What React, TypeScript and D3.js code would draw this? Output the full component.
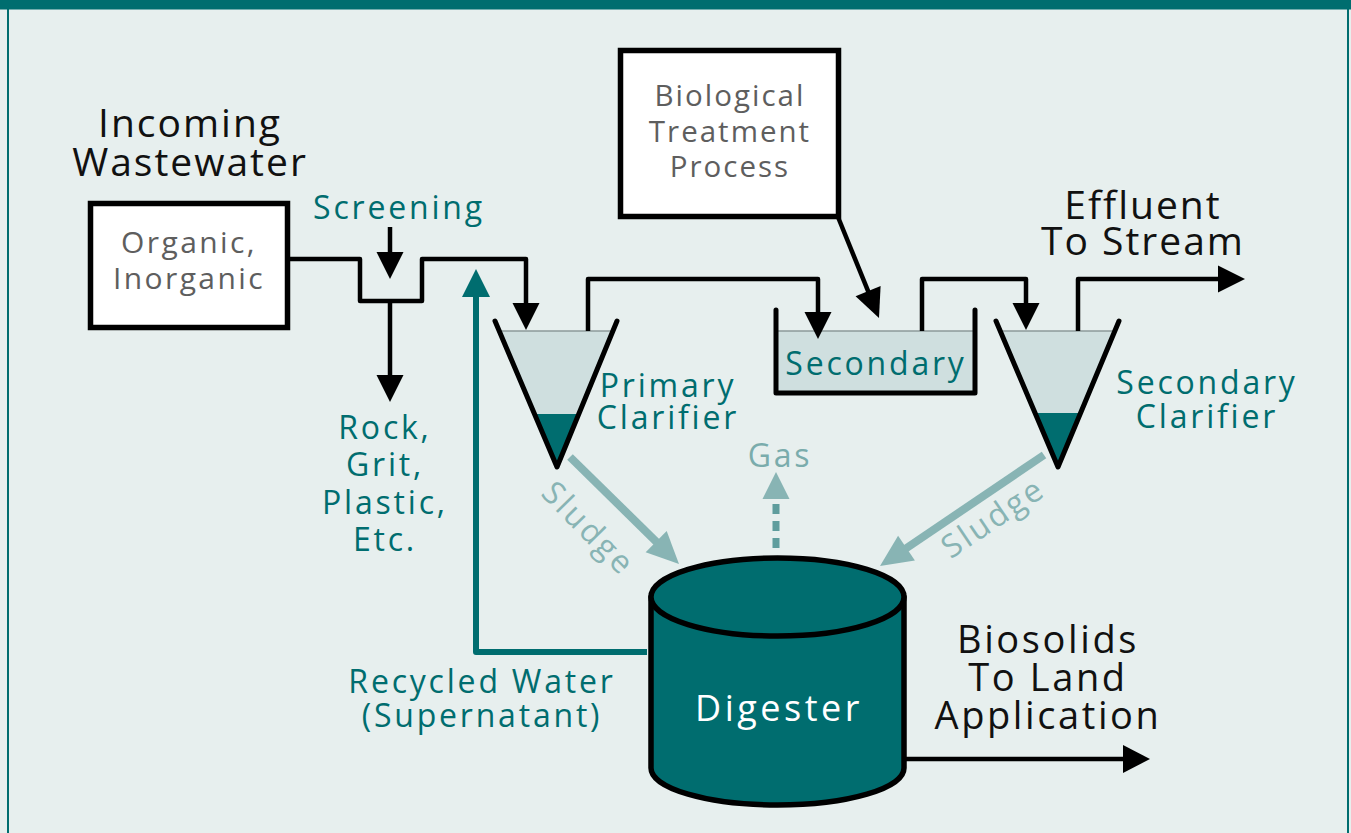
import React, { useEffect, useRef } from "react";
import * as d3 from "d3";

// labels, top to bottom / left to right
const incomingLabel = ["Incoming", "Wastewater"];
const sourceLabel = ["Organic,", "Inorganic"];
const screeningLabel = ["Screening"];
const removedLabel = ["Rock,", "Grit,", "Plastic,", "Etc."];
const bioLabel = ["Biological", "Treatment", "Process"];
const primaryLabel = ["Primary", "Clarifier"];
const tankLabel = ["Secondary"];
const secondaryLabel = ["Secondary", "Clarifier"];
const effluentLabel = ["Effluent", "To Stream"];
const gasLabel = ["Gas"];
const sludgeLabel = ["Sludge"];
const digesterLabel = ["Digester"];
const biosolidsLabel = ["Biosolids", "To Land", "Application"];
const recycledLabel = ["Recycled Water", "(Supernatant)"];

const W = 1351, H = 833;
const TEAL = "#006d6f";
const BG = "#e7efee";
const LIQUID = "#cfdfdf";
const PALE = "#88b4b4";
const GRAY = "#5e5e5e";
const FONT = "'Open Sans', 'DejaVu Sans', sans-serif";

type Pt = [number, number];

const App = () => {
  const svgRef = useRef<SVGSVGElement>(null);

  useEffect(() => {
    const svg = d3.select(svgRef.current);
    svg.selectAll("*").remove();
    const line = d3.line();

    // frame
    svg.append("rect").attr("width", W).attr("height", H).attr("fill", BG);
    svg.append("rect").attr("width", W).attr("height", 9.5).attr("fill", TEAL);
    svg.append("rect").attr("x", 7).attr("width", 2).attr("height", H).attr("fill", TEAL);
    svg.append("rect").attr("x", 1347).attr("width", 2).attr("height", H).attr("fill", TEAL);

    const g = svg.append("g");

    const text = (lines: string[], x: number, y0: number, dy: number, size: number,
                  fill: string, ls: number, anchor = "middle") => {
      const t = g.append("text")
        .attr("font-family", FONT)
        .attr("font-size", size)
        .attr("fill", fill)
        .attr("letter-spacing", ls)
        .attr("text-anchor", anchor);
      lines.forEach((s, i) => {
        t.append("tspan").attr("x", x).attr("y", y0 + i * dy).text(s);
      });
      return t;
    };

    // polyline ending in a triangle head
    const arrow = (pts: Pt[], color: string, width: number, headL: number, headW: number,
                   dash?: string, headColor?: string) => {
      const n = pts.length;
      const [tx, ty] = pts[n - 1];
      const [px, py] = pts[n - 2];
      const len = Math.hypot(tx - px, ty - py);
      const ux = (tx - px) / len, uy = (ty - py) / len;
      const bx = tx - ux * headL, by = ty - uy * headL;
      const body = pts.slice(0, n - 1).concat([[tx - ux * headL * 0.6, ty - uy * headL * 0.6]]);
      g.append("path")
        .attr("d", line(body as Pt[]))
        .attr("fill", "none")
        .attr("stroke", color)
        .attr("stroke-width", width)
        .attr("stroke-linejoin", "round")
        .attr("stroke-dasharray", dash ?? null);
      const head: Pt[] = [
        [tx, ty],
        [bx - uy * headW / 2, by + ux * headW / 2],
        [bx + uy * headW / 2, by - ux * headW / 2],
      ];
      g.append("path")
        .attr("d", line(head) + "Z")
        .attr("fill", headColor ?? color);
    };

    const box = (x0: number, y0: number, x1: number, y1: number) => {
      g.append("rect")
        .attr("x", x0).attr("y", y0)
        .attr("width", x1 - x0).attr("height", y1 - y0)
        .attr("fill", "#fff").attr("stroke", "#000").attr("stroke-width", 5.5);
    };

    // cone clarifier: top-left, tip, top-right, liquid level, sludge level
    const cone = (tl: Pt, tip: Pt, tr: Pt, yLiq: number, ySl: number) => {
      const xl = (y: number) => tl[0] + (y - tl[1]) * (tip[0] - tl[0]) / (tip[1] - tl[1]);
      const xr = (y: number) => tr[0] + (y - tr[1]) * (tip[0] - tr[0]) / (tip[1] - tr[1]);
      g.append("path").attr("d", line([[xl(yLiq), yLiq], [xr(yLiq), yLiq], tip]) + "Z").attr("fill", LIQUID);
      g.append("path").attr("d", line([[xl(ySl), ySl], [xr(ySl), ySl], tip]) + "Z").attr("fill", TEAL);
      g.append("path").attr("d", line([[xl(yLiq), yLiq], [xr(yLiq), yLiq]]))
        .attr("stroke", "#8c9a9a").attr("stroke-width", 1.5);
      g.append("path").attr("d", line([tl, tip, tr]))
        .attr("fill", "none").attr("stroke", "#000").attr("stroke-width", 5)
        .attr("stroke-linejoin", "round").attr("stroke-linecap", "round");
    };

    // boxes
    box(90.5, 203.5, 287.5, 327.5);
    box(620.5, 50.5, 838.5, 216.5);

    // secondary tank
    g.append("rect").attr("x", 776).attr("y", 331).attr("width", 199).attr("height", 62).attr("fill", LIQUID);
    g.append("path").attr("d", line([[776, 331], [975, 331]])).attr("stroke", "#8c9a9a").attr("stroke-width", 1.5);
    g.append("path").attr("d", line([[776, 310], [776, 393], [975, 393], [975, 310]]))
      .attr("fill", "none").attr("stroke", "#000").attr("stroke-width", 5)
      .attr("stroke-linejoin", "round").attr("stroke-linecap", "round");

    cone([495, 321], [557, 467], [617, 321], 331, 414);
    cone([996, 321], [1058, 467], [1119, 321], 331, 413);

    // black pipes
    arrow([[290, 259], [360, 259], [360, 301], [422, 301], [422, 259], [526, 259], [526, 330]], "#000", 4.5, 27, 27);
    arrow([[390, 227], [390, 279]], "#000", 4.5, 27, 27);
    arrow([[390, 301], [390, 402]], "#000", 4.5, 27, 27);
    arrow([[588, 331], [588, 279], [818, 279], [818, 339]], "#000", 4.5, 27, 27);
    arrow([[838, 217], [879, 318]], "#000", 4.5, 29, 27);
    arrow([[922, 331], [922, 279], [1026, 279], [1026, 330]], "#000", 4.5, 27, 27);
    arrow([[1078, 331], [1078, 279], [1245, 279]], "#000", 4.5, 27, 27);

    // sludge, gas
    arrow([[570, 457], [679, 564]], PALE, 8, 32, 30);
    arrow([[1044, 455], [880, 566]], PALE, 8, 32, 30);
    arrow([[776, 548], [776, 472]], "#5f9d9d", 7, 27, 27, "10,7", PALE);

    // recycled water
    arrow([[647, 652], [476, 652], [476, 269]], TEAL, 6, 28, 28);

    // digester
    const cx = 777.5, rx = 126.5, yTop = 597, yBot = 768;
    g.append("path")
      .attr("d", `M${cx - rx},${yTop}L${cx - rx},${yBot}A${rx},37 0 0 0 ${cx + rx},${yBot}L${cx + rx},${yTop}Z`)
      .attr("fill", TEAL).attr("stroke", "#000").attr("stroke-width", 5.5).attr("stroke-linejoin", "round");
    g.append("ellipse").attr("cx", cx).attr("cy", yTop).attr("rx", rx).attr("ry", 39)
      .attr("fill", TEAL).attr("stroke", "#000").attr("stroke-width", 5.5);
    arrow([[905, 759], [1150, 759]], "#000", 4.5, 27, 28);

    // labels
    text(incomingLabel, 190, 137, 39, 39, "#111", 2);
    text(sourceLabel, 189, 253, 36, 30, GRAY, 2.4);
    text(screeningLabel, 399, 219, 0, 32, TEAL, 2.8);
    text(removedLabel, 385, 439, 37.3, 32, TEAL, 2.8);
    text(bioLabel, 730, 106, 35.5, 29.5, GRAY, 2);
    text(primaryLabel, 668, 397, 32, 32, TEAL, 2.8);
    text(tankLabel, 876, 375, 0, 32, TEAL, 2.8);
    text(secondaryLabel, 1207, 394, 34, 32, TEAL, 2.8);
    text(effluentLabel, 1143, 219, 36, 39, "#111", 2);
    text(gasLabel, 780, 467, 0, 32, "#7aacac", 2.8);
    text(sludgeLabel, 0, 0, 0, 32, PALE, 2.8)
      .attr("dominant-baseline", "central")
      .attr("transform", "translate(590,527) rotate(45.5)");
    text(sludgeLabel, 0, 0, 0, 32, PALE, 2.8)
      .attr("dominant-baseline", "central")
      .attr("transform", "translate(992,516) rotate(-34)");
    text(digesterLabel, 779, 721, 0, 36, "#fff", 3.5);
    text(biosolidsLabel, 1048, 653, 38, 38, "#111", 2.6);
    text(recycledLabel, 482, 693, 34, 32, TEAL, 2.8);
  }, []);

  return (
    <svg
      ref={svgRef}
      width={W}
      height={H}
      style={{ position: "absolute", left: 0, top: 0, display: "block" }}
    />
  );
};

export default App;
